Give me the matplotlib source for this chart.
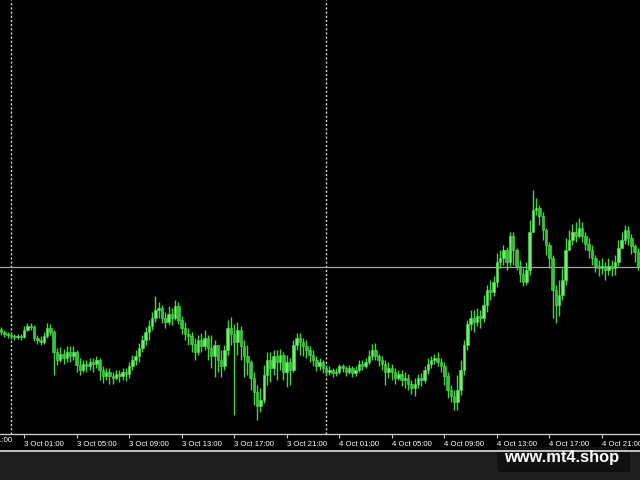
import numpy as np
import matplotlib
matplotlib.use("Agg")
import matplotlib.pyplot as plt
from matplotlib.patches import Rectangle
from matplotlib.lines import Line2D

# ---------------- data (15-minute candles, prices in pips above BASE) ----------------
BASE = 1.1000
PIP = 0.0001
first_open_pips = 101

close_pips = [98, 96, 95, 94, 93, 94, 93, 100, 104, 103,
              92, 90, 88, 94, 102, 98, 78, 70, 76, 72,
              78, 74, 78, 65, 60, 66, 64, 68, 66, 70,
              60, 54, 58, 54, 52, 56, 54, 58, 56, 64,
              70, 74, 82, 90, 98, 104, 112, 120, 122, 112,
              108, 116, 112, 124, 110, 102, 96, 94, 86, 78,
              90, 84, 92, 82, 74, 85, 70, 64, 80, 102,
              96, 88, 100, 84, 74, 68, 52, 38, 24, 30,
              55, 70, 62, 74, 68, 75, 58, 68, 60, 85,
              92, 88, 84, 80, 75, 70, 64, 68, 62, 58,
              60, 57, 58, 64, 62, 58, 62, 57, 60, 66,
              64, 68, 74, 80, 74, 70, 66, 58, 62, 58,
              52, 56, 50, 52, 46, 42, 46, 52, 50, 60,
              66, 70, 72, 68, 64, 54, 40, 34, 28, 40,
              60, 85, 106, 112, 108, 114, 112, 125, 140, 138,
              148, 168, 172, 180, 168, 194, 180, 164, 156, 148,
              160, 198, 220, 222, 214, 200, 185, 172, 140, 125,
              135, 150, 180, 190, 198, 194, 202, 194, 186, 180,
              172, 164, 162, 164, 160, 164, 162, 168, 182, 190,
              200, 192, 184, 178, 163]

high_pips = [103, 100, 98, 97, 96, 96, 96, 104, 107, 107,
             105, 95, 94, 98, 107, 106, 100, 82, 83, 81,
             84, 84, 84, 80, 72, 70, 70, 72, 72, 74,
             72, 64, 62, 62, 58, 60, 60, 62, 62, 68,
             75, 80, 87, 95, 103, 110, 118, 134, 128, 125,
             118, 124, 122, 130, 128, 114, 108, 102, 98, 92,
             95, 97, 100, 95, 95, 90, 85, 80, 85, 110,
             113, 106, 108, 104, 90, 85, 70, 58, 45, 42,
             65, 78, 78, 80, 80, 81, 78, 75, 72, 90,
             97, 97, 92, 90, 84, 80, 74, 72, 70, 65,
             64, 62, 62, 66, 66, 64, 65, 64, 64, 70,
             70, 72, 80, 86, 87, 76, 74, 70, 68, 66,
             62, 60, 60, 58, 56, 50, 52, 56, 57, 64,
             72, 74, 76, 78, 72, 68, 58, 45, 40, 55,
             70, 90, 110, 120, 120, 122, 120, 135, 145, 150,
             154, 177, 180, 185, 183, 198, 198, 182, 170, 162,
             168, 210, 240, 232, 225, 218, 202, 188, 175, 145,
             150, 162, 192, 200, 206, 208, 212, 208, 198, 192,
             185, 175, 170, 172, 168, 172, 170, 175, 190, 198,
             205, 204, 196, 186, 182]

low_pips = [95, 93, 92, 91, 90, 91, 90, 92, 99, 100,
            89, 86, 85, 86, 92, 95, 55, 65, 68, 66,
            68, 68, 70, 58, 55, 58, 58, 60, 58, 62,
            50, 47, 50, 46, 46, 50, 48, 50, 49, 52,
            60, 65, 68, 78, 85, 90, 100, 108, 112, 107,
            102, 105, 105, 110, 106, 96, 90, 85, 78, 70,
            75, 78, 80, 70, 62, 53, 58, 53, 60, 75,
            85, 15, 75, 70, 53, 55, 40, 25, 10, 18,
            27, 45, 48, 55, 50, 60, 50, 43, 45, 58,
            80, 75, 74, 72, 68, 64, 59, 60, 57, 54,
            55, 53, 54, 56, 58, 54, 56, 53, 54, 58,
            60, 62, 66, 70, 70, 64, 60, 45, 52, 50,
            46, 50, 44, 42, 40, 36, 34, 42, 44, 47,
            56, 62, 66, 64, 58, 45, 32, 28, 20, 20,
            35, 55, 80, 100, 98, 104, 102, 108, 118, 130,
            134, 143, 162, 165, 160, 164, 165, 160, 148, 144,
            145, 155, 202, 215, 205, 190, 175, 162, 112, 107,
            114, 130, 145, 182, 185, 188, 192, 188, 180, 172,
            165, 158, 154, 156, 150, 155, 154, 155, 164, 182,
            186, 185, 176, 168, 160]

tick_hours = [1, 5, 9, 13, 17, 21, 25, 29, 33, 37, 41, 45]
tick_labels = ["3 Oct 01:00", "3 Oct 05:00", "3 Oct 09:00", "3 Oct 13:00",
               "3 Oct 17:00", "3 Oct 21:00", "4 Oct 01:00", "4 Oct 05:00",
               "4 Oct 09:00", "4 Oct 13:00", "4 Oct 17:00", "4 Oct 21:00"]
day_separators = [0, 24]
watermark = "www.mt4.shop"

# ---------------- prepare ----------------
close = BASE + np.array(close_pips, float) * PIP
high = BASE + np.array(high_pips, float) * PIP
low = BASE + np.array(low_pips, float) * PIP
opens = np.concatenate([[BASE + first_open_pips * PIP], close[:-1]])
high = np.maximum(high, np.maximum(opens, close))
low = np.minimum(low, np.minimum(opens, close))
n = len(close)
times = -0.75 + 0.25 * np.arange(n)   # hours since 3 Oct 00:00

# ---------------- figure ----------------
W, H = 640, 480
PX_PER_HOUR = 13.13
X0 = 11.0
AX_BOTTOM_PX = 434

fig = plt.figure(figsize=(6.4, 4.8), dpi=100, facecolor="black")
ax = fig.add_axes([0, 1 - AX_BOTTOM_PX / H, 1, AX_BOTTOM_PX / H])
ax.set_facecolor("black")

ax.set_xlim(-X0 / PX_PER_HOUR, (W - X0) / PX_PER_HOUR)
ax.set_ylim(BASE - 4 * PIP, BASE + 430 * PIP)

# day separators and price line
for d in day_separators:
    ax.axvline(d, color="#d8d8d8", lw=1.0, linestyle=(0, (1.5, 1.5)), zorder=1)
ax.axhline(close[-1], color="#a8a8a8", lw=0.9, zorder=1)

bull = close >= opens
body_col = np.where(bull, "#6af06a", "#34c434")
ax.vlines(times, low, high, colors="#48d448", lw=1.0, zorder=2)
heights = close - opens
heights = np.where(np.abs(heights) < 0.6 * PIP, 0.8 * PIP, heights)
ax.bar(times, heights, bottom=opens, width=0.19, color=body_col,
       edgecolor="#55dd55", linewidth=0.4, zorder=3)

# axes styling
for s in ["top", "left", "right"]:
    ax.spines[s].set_visible(False)
ax.spines["bottom"].set_color("#c8c8c8")
ax.spines["bottom"].set_linewidth(1.0)
ax.set_yticks([])
ax.set_xticks(tick_hours)
ax.set_xticklabels(tick_labels)
ax.tick_params(axis="x", colors="#c8c8c8", length=3, width=0.8, pad=2,
               labelsize=5.6, labelcolor="white")
for lab in ax.get_xticklabels():
    lab.set_ha("left")
    lab.set_family("Liberation Sans")

# partially visible label at the left edge
ax.text(-3, -0.0065, "2 Oct 21:00", transform=ax.get_xaxis_transform(),
        ha="left", va="top", fontsize=5.6, color="white",
        family="Liberation Sans", clip_on=False)

# bottom strip
fig.patches.append(Rectangle((0, 0), 1, 29 / H, transform=fig.transFigure,
                             facecolor="#1e1e1e", edgecolor="none", zorder=0))
fig.lines.append(Line2D([0, 1], [1 - 450.5 / H] * 2, transform=fig.transFigure,
                        color="#e0e0e0", lw=1.2))
# watermark box
fig.patches.append(Rectangle((499 / W, 1 - 472 / H), 131 / W, 23 / H,
                             transform=fig.transFigure, facecolor="#0a0a0a",
                             edgecolor="none", alpha=0.8))
fig.patches.append(Rectangle((497 / W, 1 - 470 / H), 131 / W, 23 / H,
                             transform=fig.transFigure, facecolor="#111111",
                             edgecolor="none"))
fig.text(562 / W, 1 - 457.5 / H, watermark, ha="center", va="center",
         fontsize=11.8, fontweight="bold", color="white", family="Liberation Sans")

fig.savefig("out.png", dpi=100, facecolor="black")
